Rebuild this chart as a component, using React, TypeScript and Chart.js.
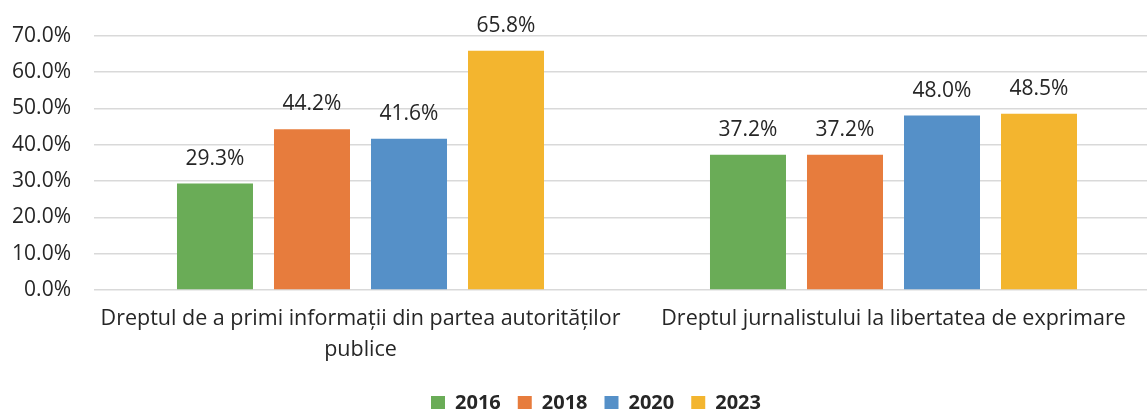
import React, { useEffect, useRef } from "react";
import { Chart, registerables } from "chart.js";

Chart.register(...registerables);

const categories: (string | string[])[] = [
  ["Dreptul de a primi informații din partea autorităților", "publice"],
  "Dreptul jurnalistului la libertatea de exprimare",
];
const seriesNames = ["2016", "2018", "2020", "2023"];
const values2016 = [29.3, 37.2];
const values2018 = [44.2, 37.2];
const values2020 = [41.6, 48.0];
const values2023 = [65.8, 48.5];
const seriesColors = ["#6AAC57", "#E77C3D", "#5590C8", "#F3B52F"];
const yMax = 70;
const yStep = 10;

const FONT = "'Open Sans', 'Liberation Sans', sans-serif";
const TEXT = "#262626";

const valueLabels = {
  id: "valueLabels",
  afterDatasetsDraw(chart: any) {
    const ctx = chart.ctx;
    ctx.save();
    ctx.font = `21px ${FONT}`;
    ctx.fillStyle = TEXT;
    ctx.textAlign = "center";
    ctx.textBaseline = "alphabetic";
    chart.data.datasets.forEach((ds: any, i: number) => {
      const meta = chart.getDatasetMeta(i);
      meta.data.forEach((el: any, j: number) => {
        ctx.fillText(Number(ds.data[j]).toFixed(1) + "%", el.x, el.y - 19);
      });
    });
    ctx.restore();
  },
};

const legendShift = {
  id: "legendShift",
  afterLayout(chart: any) {
    if (chart.legend) {
      chart.legend.left += 16;
      chart.legend.right += 16;
    }
  },
};

export default function App() {
  const ref = useRef<HTMLCanvasElement>(null);
  useEffect(() => {
    const allValues = [values2016, values2018, values2020, values2023];
    const chart = new Chart(ref.current!, {
      type: "bar",
      data: {
        labels: categories as any,
        datasets: seriesNames.map((name, i) => ({
          label: name,
          data: allValues[i],
          backgroundColor: seriesColors[i],
          borderWidth: 0,
          barPercentage: 0.7835,
          categoryPercentage: 0.728,
        })),
      },
      options: {
        animation: false,
        responsive: true,
        maintainAspectRatio: false,
        layout: { padding: { left: 0, right: 0, top: 31, bottom: 0 } },
        plugins: {
          tooltip: { enabled: false },
          legend: {
            position: "bottom",
            labels: {
              boxWidth: 14,
              boxHeight: 14,
              padding: 17,
              color: TEXT,
              font: { family: FONT, size: 20, weight: "bold" },
            },
          },
        },
        scales: {
          x: {
            grid: { display: false, drawTicks: false },
            border: { display: false },
            ticks: {
              color: TEXT,
              font: { family: FONT, size: 21.5, lineHeight: 1.45 },
              padding: 13,
              maxRotation: 0,
              autoSkip: false,
            },
            afterFit: (scale: any) => {
              scale.height = 86;
            },
          },
          y: {
            min: 0,
            max: yMax,
            grid: { color: "#D9D9D9", lineWidth: 1.5, drawTicks: false },
            border: { display: false },
            ticks: {
              stepSize: yStep,
              color: TEXT,
              font: { family: FONT, size: 21 },
              padding: 23,
              callback: (v: any) => Number(v).toFixed(1) + "%",
            },
            afterFit: (scale: any) => {
              scale.width = 94;
            },
          },
        },
      },
      plugins: [valueLabels, legendShift],
    });
    return () => chart.destroy();
  }, []);
  return (
    <div
      style={{
        position: "fixed",
        left: 0,
        top: 0,
        width: 1147,
        height: 409,
        overflow: "hidden",
        background: "#fff",
      }}
    >
      <div style={{ position: "absolute", left: 0, top: 0, width: 1160, height: 423 }}>
        <canvas ref={ref} />
      </div>
    </div>
  );
}
